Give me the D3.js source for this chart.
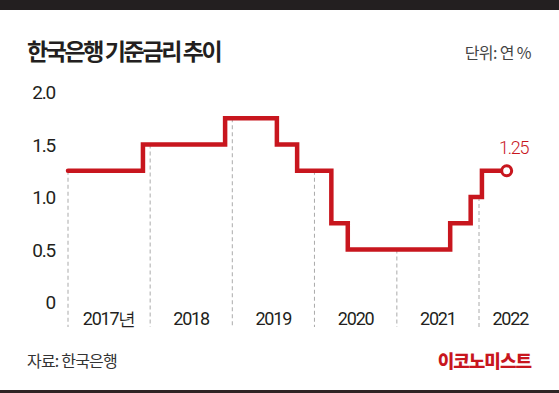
<!DOCTYPE html>
<html>
<head>
<meta charset="utf-8">
<script src="https://cdn.jsdelivr.net/npm/d3@7"></script>
<style>
  body { margin: 0; background: #fff; }
  svg { display: block; }
  .num { font-family: "Roboto", "Liberation Sans", sans-serif; letter-spacing: -1.2px; }
  .kr { font-family: "Noto Sans CJK KR", sans-serif; }
</style>
</head>
<body>
<svg id="chart" width="559" height="393"></svg>
<script>
// 한국은행 기준금리 (change dates and new rate)
const stepDates = ["2017-01-01", "2017-11-30", "2018-11-30", "2019-07-18", "2019-10-16",
  "2020-03-16", "2020-05-28", "2021-08-26", "2021-11-25", "2022-01-14", "2022-05-04"];
const stepRates = [1.25, 1.5, 1.75, 1.5, 1.25, 0.75, 0.5, 0.75, 1.0, 1.25, 1.25];

const yearStarts = ["2017-01-01", "2018-01-01", "2019-01-01", "2020-01-01", "2021-01-01", "2022-01-01"];
const yearLabels = ["2017년", "2018", "2019", "2020", "2021", "2022"];
const yearLabelDates = ["2017-07-02", "2018-07-02", "2019-07-02", "2020-07-02", "2021-07-02", "2022-05-20"];
const yTicks = [0, 0.5, 1.0, 1.5, 2.0];
const lastLabel = "1.25";

const parse = d3.timeParse("%Y-%m-%d");
const data = stepDates.map((d, i) => ({ date: parse(d), v: stepRates[i] }));

const svg = d3.select("#chart");
const red = "#c8161e";

// chart specs
const x = d3.scaleTime()
  .domain([parse("2017-01-01"), parse("2022-01-01")])
  .range([68, 479]);
const y = d3.scaleLinear().domain([0, 2]).range([302, 92]);

// top bar & bottom rule
svg.append("rect").attr("x", 0).attr("y", 0).attr("width", 559).attr("height", 10).attr("fill", "#231f20");
svg.append("rect").attr("x", 0).attr("y", 390).attr("width", 559).attr("height", 3).attr("fill", "#2e2424");

// title
svg.append("text").attr("class", "kr")
  .attr("x", 27).attr("y", 60)
  .attr("font-size", 23).attr("font-weight", 700)
  .attr("letter-spacing", -2.4).attr("fill", "#231f20")
  .text("한국은행 기준금리 추이");

svg.append("text").attr("class", "kr")
  .attr("x", 531).attr("y", 59).attr("text-anchor", "end")
  .attr("font-size", 16).attr("letter-spacing", -0.6).attr("fill", "#444")
  .text("단위: 연 %");

// rate at a date (step after)
function rateAt(dt) {
  let v = data[0].v;
  data.forEach(d => { if (d.date <= dt) v = d.v; });
  return v;
}

// dashed year lines
svg.append("g").selectAll("line")
  .data(yearStarts)
  .enter()
  .append("line")
  .attr("x1", d => x(parse(d)))
  .attr("x2", d => x(parse(d)))
  .attr("y1", d => y(rateAt(parse(d))))
  .attr("y2", 327)
  .attr("stroke", "#aaa")
  .attr("stroke-width", 1)
  .attr("stroke-dasharray", "4,3");

// y axis labels
svg.append("g").selectAll("text")
  .data(yTicks)
  .enter()
  .append("text")
  .attr("class", "num")
  .attr("x", 55)
  .attr("y", d => y(d) + 7)
  .attr("text-anchor", "end")
  .attr("font-size", 19)
  .attr("fill", "#231f20")
  .text(d => d === 0 ? "0" : d3.format(".1f")(d));

// year labels
svg.append("g").selectAll("text")
  .data(yearLabels)
  .enter()
  .append("text")
  .attr("class", "num")
  .attr("x", (d, i) => x(parse(yearLabelDates[i])))
  .attr("y", 325)
  .attr("text-anchor", "middle")
  .attr("font-size", 18)
  .attr("fill", "#231f20")
  .text(d => d);

// step line
const line = d3.line()
  .x(d => x(d.date))
  .y(d => y(d.v))
  .curve(d3.curveStepAfter);

svg.append("path")
  .datum(data)
  .attr("d", line)
  .attr("fill", "none")
  .attr("stroke", red)
  .attr("stroke-width", 4.5)
  .attr("stroke-linejoin", "miter")
  .attr("stroke-linecap", "round");

// end point
const last = data[data.length - 1];
svg.append("circle")
  .attr("cx", x(last.date))
  .attr("cy", y(last.v))
  .attr("r", 5)
  .attr("fill", "#fff")
  .attr("stroke", red)
  .attr("stroke-width", 3);

svg.append("text").attr("class", "num")
  .attr("x", x(last.date) + 7)
  .attr("y", y(last.v) - 17)
  .attr("text-anchor", "middle")
  .attr("font-size", 18)
  .attr("font-weight", 300)
  .attr("fill", red)
  .text(lastLabel);

// footer
svg.append("text").attr("class", "kr")
  .attr("x", 27).attr("y", 367)
  .attr("font-size", 16).attr("letter-spacing", -0.8).attr("fill", "#333")
  .text("자료: 한국은행");

svg.append("text").attr("class", "kr")
  .attr("x", 531).attr("y", 368).attr("text-anchor", "end")
  .attr("font-size", 18).attr("font-weight", 900).attr("letter-spacing", -1)
  .attr("fill", red)
  .text("이코노미스트");
</script>
</body>
</html>
